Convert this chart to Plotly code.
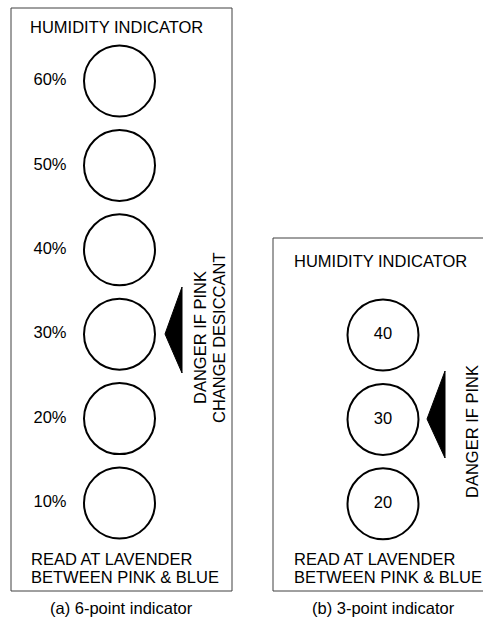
import plotly.graph_objects as go

# ---------------- data ----------------
levels_6 = [60, 50, 40, 30, 20, 10]
labels_6 = [f"{v}%" for v in levels_6]
levels_3 = [40, 30, 20]
labels_3 = [str(v) for v in levels_3]
danger_level = 30
title_text = "HUMIDITY INDICATOR"
footer_lines = ["READ AT LAVENDER", "BETWEEN PINK & BLUE"]
warning_6 = ["DANGER IF PINK", "CHANGE DESICCANT"]
warning_3 = ["DANGER IF PINK"]
captions = ["(a) 6-point indicator", "(b) 3-point indicator"]

# ---------------- layout constants ----------------
OFF = 0                      # page margin removed via post_script
W, H = 483, 618
PX_PER_UNIT = 8.44           # vertical pixels per humidity point
FONT = "Liberation Sans, Arial, sans-serif"
FS = 16.5

def sx(p):  # screen x -> figure x
    return p - OFF

def py(p):  # screen y -> paper
    return 1 - (p - OFF) / H

def yrange(ref_level, ref_px):
    ref = ref_px - OFF
    top = ref_level + ref / PX_PER_UNIT
    bottom = ref_level - (H - ref) / PX_PER_UNIT
    return [bottom, top]

fig = go.Figure()

CIRCLE_X_L, CIRCLE_X_R, LABEL_X_L = sx(119.5), sx(383), sx(50)

# circles, left panel
fig.add_trace(go.Scatter(
    x=[CIRCLE_X_L] * len(levels_6), y=levels_6, mode="markers",
    marker=dict(symbol="circle", size=71, color="white",
                line=dict(color="black", width=2)),
    xaxis="x", yaxis="y", hoverinfo="skip", showlegend=False))
fig.add_trace(go.Scatter(
    x=[LABEL_X_L] * len(levels_6), y=levels_6, mode="text", text=labels_6,
    textposition="middle center", textfont=dict(family=FONT, size=FS, color="black"),
    xaxis="x", yaxis="y", hoverinfo="skip", showlegend=False))

# circles, right panel
fig.add_trace(go.Scatter(
    x=[CIRCLE_X_R] * len(levels_3), y=levels_3, mode="markers+text", text=labels_3,
    textposition="middle center", textfont=dict(family=FONT, size=FS, color="black"),
    marker=dict(symbol="circle", size=71, color="white",
                line=dict(color="black", width=2)),
    xaxis="x", yaxis="y2", hoverinfo="skip", showlegend=False))

shapes = []
border = dict(color="#404040", width=1)
# left panel frame
shapes.append(dict(type="rect", xref="x", yref="paper", x0=sx(11), x1=sx(232),
                   y0=py(591), y1=py(8), line=border, layer="below"))
# right panel frame (runs off the right edge)
shapes.append(dict(type="rect", xref="x", yref="paper", x0=sx(273), x1=W + 20,
                   y0=py(591), y1=py(238), line=border, layer="below"))

# danger triangles
def tri(tip_x, base_x, tip_y, top_y, bot_y):
    return dict(type="path", xref="x", yref="paper",
                path=(f"M {sx(tip_x)},{py(tip_y)} L {sx(base_x)},{py(top_y)} "
                      f"L {sx(base_x)},{py(bot_y)} Z"),
                fillcolor="black", line=dict(color="black", width=1))

shapes.append(tri(165, 182, 334, 287, 373))
shapes.append(tri(427, 445, 419, 371, 458))

annotations = []
def txt(s, x, y, xanchor="left", angle=0, yanchor="middle"):
    annotations.append(dict(text=s, x=sx(x), y=py(y), xref="x", yref="paper",
                            xanchor=xanchor, yanchor=yanchor, textangle=angle,
                            showarrow=False, font=dict(family=FONT, size=FS, color="black")))

# titles
txt(title_text, 28, 27)
txt(title_text, 292, 261)
# footers
for i, line in enumerate(footer_lines):
    txt(line, 29, 559 + 18 * i)
    txt(line, 292, 559 + 18 * i)
# warnings (rotated)
txt(warning_6[0], 200, 338, xanchor="center", angle=-90)
txt(warning_6[1], 219, 338, xanchor="center", angle=-90)
txt(warning_3[0], 472, 432, xanchor="center", angle=-90)
# captions
txt(captions[0], 121, 608, xanchor="center")
txt(captions[1], 383, 608, xanchor="center")

hidden = dict(visible=False, showgrid=False, zeroline=False, fixedrange=True)
fig.update_layout(
    width=W, height=H, margin=dict(l=0, r=0, t=0, b=0),
    paper_bgcolor="white", plot_bgcolor="white",
    xaxis=dict(range=[0, W], domain=[0, 1], **hidden),
    yaxis=dict(range=yrange(60, 81), domain=[0, 1], **hidden),
    yaxis2=dict(range=yrange(40, 335), overlaying="y", anchor="x", **hidden),
    shapes=shapes, annotations=annotations, showlegend=False,
)

fig.write_html(
    "out.html",
    config={"displayModeBar": False},
    post_script="document.body.style.margin='0';document.body.style.overflow='hidden';",
)
